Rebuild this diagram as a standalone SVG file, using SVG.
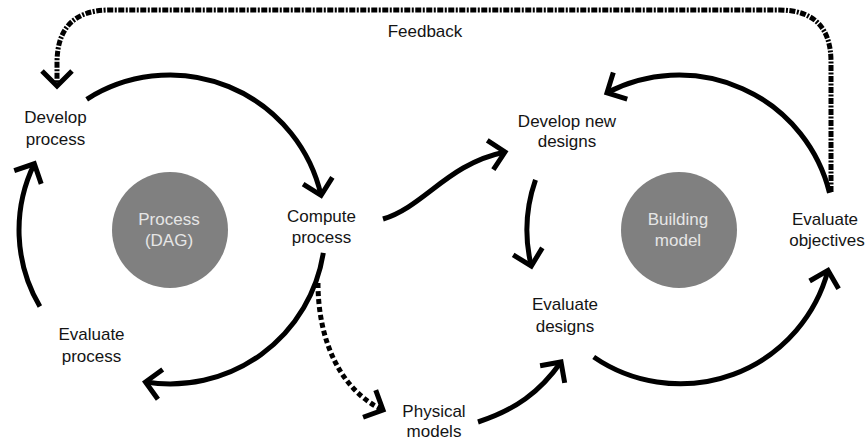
<svg xmlns="http://www.w3.org/2000/svg" width="868" height="443" viewBox="0 0 868 443">
<defs>
<style>
text{font-family:"Liberation Sans",Arial,sans-serif;font-size:17px;fill:#141414;text-anchor:middle}
.hub{fill:#808080}
.hubtxt{fill:#e6e6e6}
.c{fill:none;stroke:#000;stroke-width:5;stroke-linecap:butt}
.dash{stroke-dasharray:5 3}
.fb{stroke-dasharray:6 1.5 2 1.5}
</style>
<marker id="ah" markerUnits="userSpaceOnUse" orient="auto" overflow="visible" markerWidth="1" markerHeight="1">
<path d="M-15,-15 L0,0 L-15,15" fill="none" stroke="#000" stroke-width="5" stroke-linejoin="miter"/>
</marker>
</defs>
<rect width="868" height="443" fill="#fff"/>

<g id="connectors">
<path class="c fb" d="M831,192 L831,62 Q831,10 779,10 L110,10 Q57,10 57,63 L57,86" marker-end="url(#ah)"/>
<path class="c" d="M86.7,99.3 A155,155 0 0 1 321.1,195.4" marker-end="url(#ah)"/>
<path class="c" d="M323.3,252.9 A155,155 0 0 1 145.5,382" marker-end="url(#ah)"/>
<path class="c" d="M39.9,306.6 A151,151 0 0 1 34.3,163.8" marker-end="url(#ah)"/>
<path class="c dash" d="M318,283 C318,340 340,390 383,410" marker-end="url(#ah)"/>
<path class="c" d="M383,219 C425,206 447,164 505,152" marker-end="url(#ah)"/>
<path class="c" d="M478,422 C515,410 540,392 561,362" marker-end="url(#ah)"/>
<path class="c" d="M829.5,192.8 A155,155 0 0 0 607,92.8" marker-end="url(#ah)"/>
<path class="c" d="M535.5,179.8 A152,152 0 0 0 531.3,266" marker-end="url(#ah)"/>
<path class="c" d="M593.7,357 A153,153 0 0 0 828,270.4" marker-end="url(#ah)"/>
</g>

<g id="feedback-label"><text x="425" y="37">Feedback</text></g>

<g id="process-dag">
<circle class="hub" cx="170" cy="230" r="58"/>
<text class="hubtxt" x="169" y="225">Process</text>
<text class="hubtxt" x="169" y="246">(DAG)</text>
</g>

<g id="building-model">
<circle class="hub" cx="679" cy="230" r="58"/>
<text class="hubtxt" x="678" y="225">Building</text>
<text class="hubtxt" x="678" y="246">model</text>
</g>

<g id="develop-process">
<text x="55.5" y="123">Develop</text>
<text x="55.5" y="145">process</text>
</g>

<g id="compute-process">
<text x="321.5" y="222">Compute</text>
<text x="321.5" y="243">process</text>
</g>

<g id="evaluate-process">
<text x="91.5" y="340">Evaluate</text>
<text x="91.5" y="362">process</text>
</g>

<g id="physical-models">
<text x="434" y="417">Physical</text>
<text x="434" y="437">models</text>
</g>

<g id="develop-new-designs">
<text x="567" y="126.5">Develop new</text>
<text x="567" y="147">designs</text>
</g>

<g id="evaluate-designs">
<text x="565" y="310">Evaluate</text>
<text x="565" y="332">designs</text>
</g>

<g id="evaluate-objectives">
<text x="825" y="225">Evaluate</text>
<text x="827" y="246">objectives</text>
</g>
</svg>
